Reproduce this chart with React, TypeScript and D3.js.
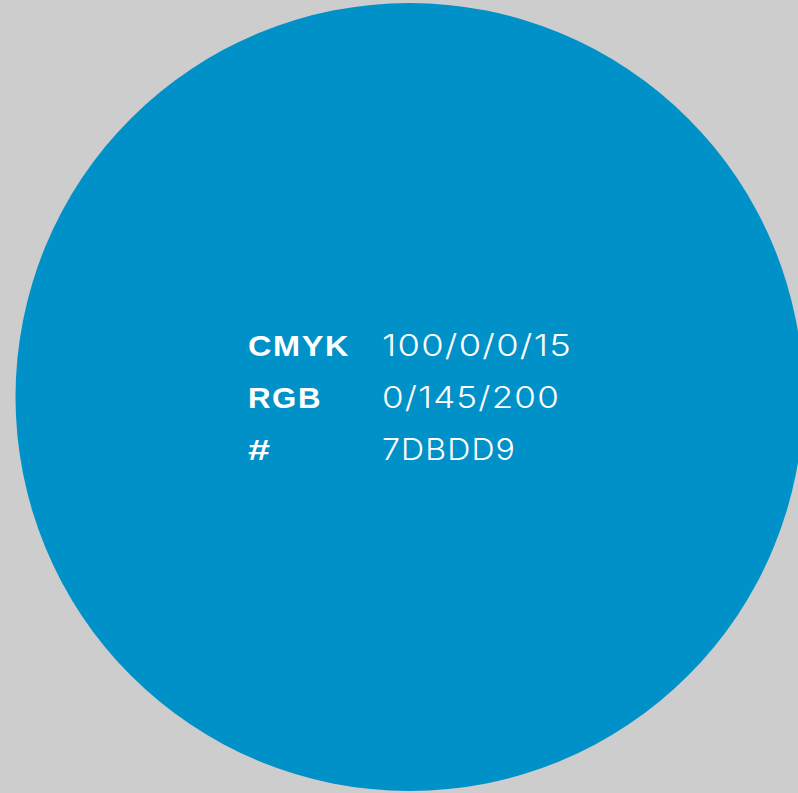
import React, { useRef, useEffect } from "react";
import * as d3 from "d3";

// colour swatch data
const labels = ["CMYK", "RGB", "#"];
const values = ["100/0/0/15", "0/145/200", "7DBDD9"];
// measured text widths in the reference (px)
const labelWidths = [102, 74, 24];
const valueWidths = [190, 178, 134];

const W = 798;
const H = 793;

const App = () => {
  const ref = useRef<SVGSVGElement>(null);

  useEffect(() => {
    document.body.style.margin = "0";
    if (!ref.current) return;
    const svg = d3.select(ref.current);
    svg.selectAll("*").remove();

    svg
      .append("rect")
      .attr("width", W)
      .attr("height", H)
      .attr("fill", "#cdcdcd");

    // the swatch circle
    svg
      .append("circle")
      .attr("cx", 409.5)
      .attr("cy", 397)
      .attr("r", 394)
      .attr("fill", "rgb(0,145,200)");

    // row positions (baselines)
    const y = d3.scaleLinear().domain([0, 2]).range([356, 460]);

    const g = svg.append("g");

    g.selectAll("text.label")
      .data(labels)
      .enter()
      .append("text")
      .attr("class", "label")
      .attr("x", 248)
      .attr("y", (d, i) => y(i))
      .attr("textLength", (d, i) => labelWidths[i])
      .attr("lengthAdjust", "spacingAndGlyphs")
      .attr("fill", "#fff")
      .style("font-family", "'Liberation Sans', Arial, sans-serif")
      .style("font-weight", "700")
      .style("font-size", "30px")
      .style("letter-spacing", "1.5px")
      .text((d) => d);

    g.selectAll("text.value")
      .data(values)
      .enter()
      .append("text")
      .attr("class", "value")
      .attr("x", 382)
      .attr("y", (d, i) => y(i))
      .attr("textLength", (d, i) => valueWidths[i])
      .attr("lengthAdjust", "spacingAndGlyphs")
      .attr("fill", "#fff")
      .style("font-family", "Inter, 'Open Sans', sans-serif")
      .style("font-weight", "300")
      .style("font-size", "30px")
      .style("letter-spacing", "1px")
      .text((d) => d);
  }, []);

  return (
    <svg
      ref={ref}
      width={W}
      height={H}
      style={{ display: "block" }}
    />
  );
};

export default App;
